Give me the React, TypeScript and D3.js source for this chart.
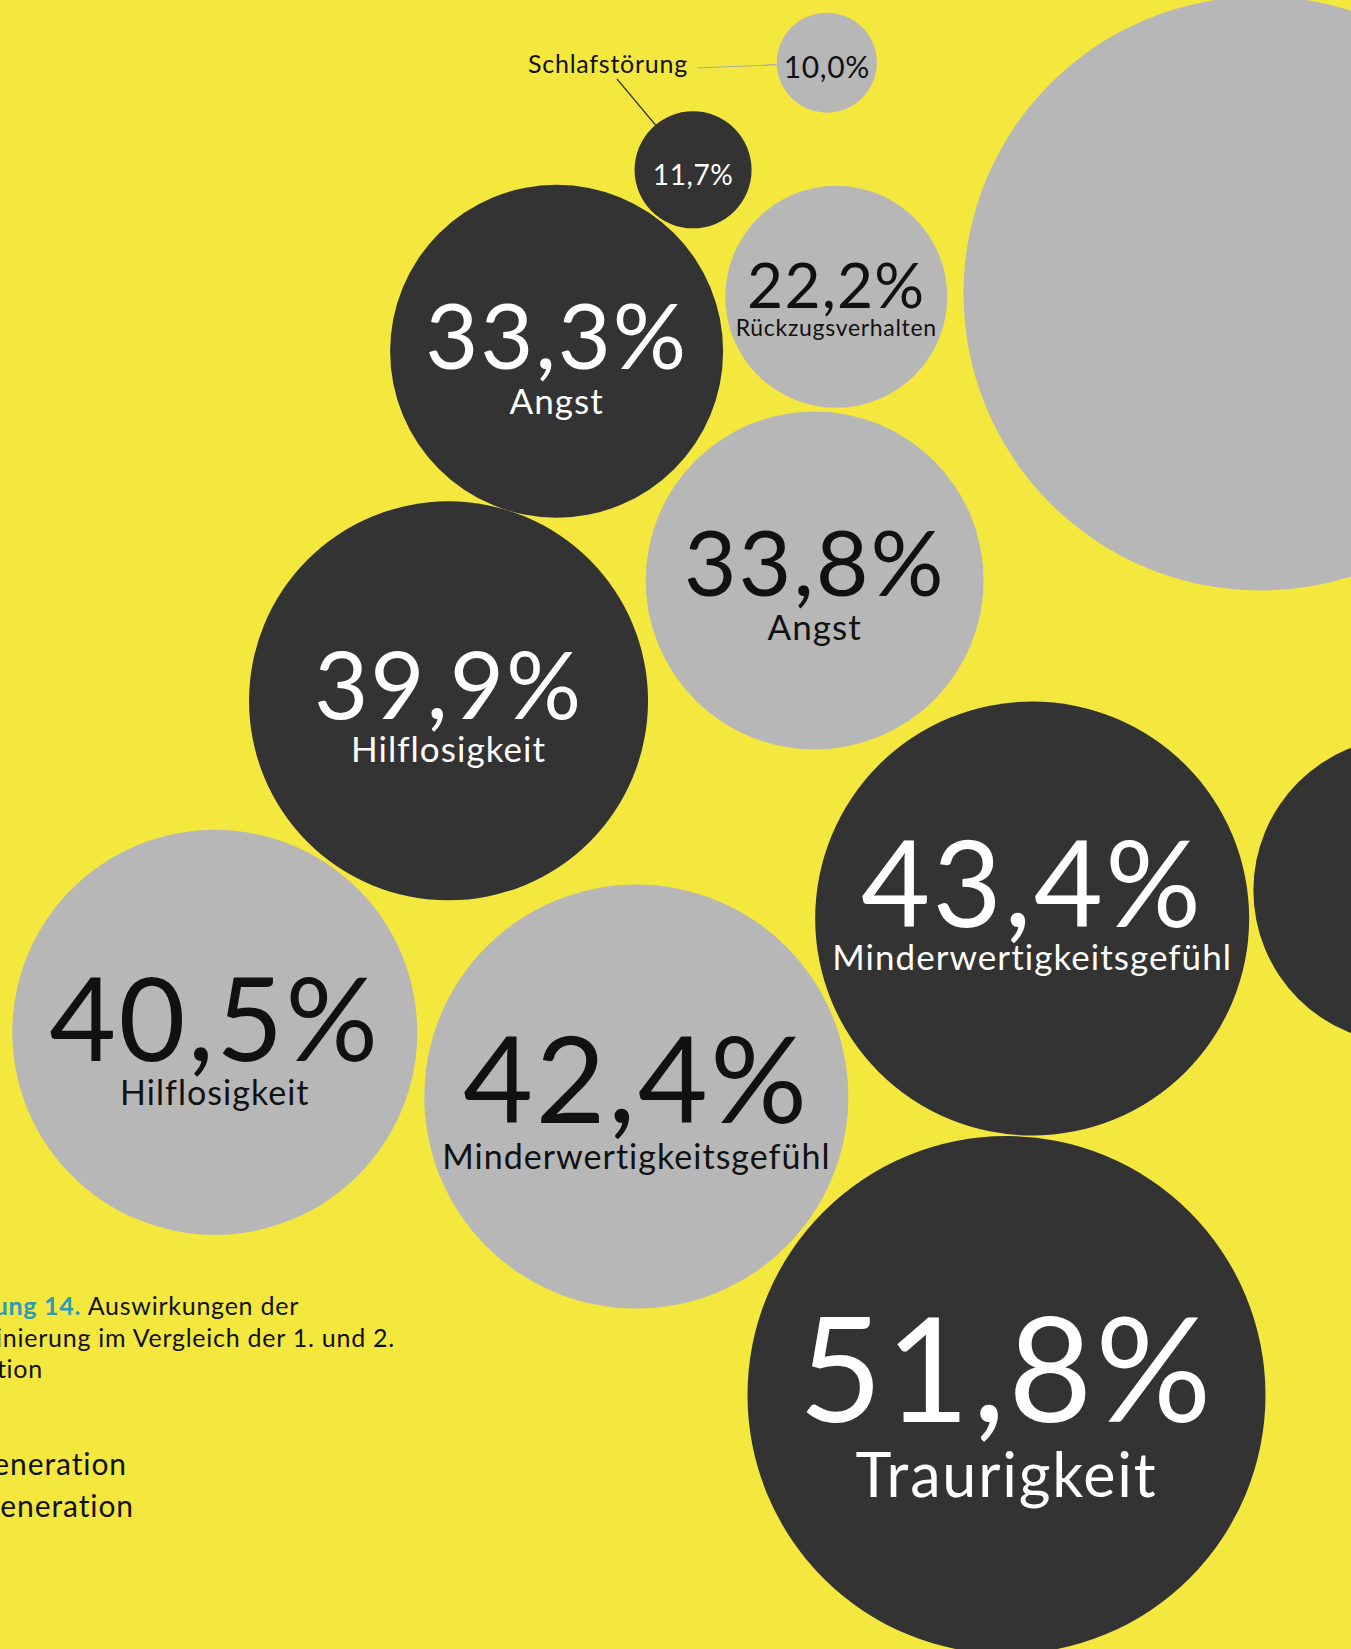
import * as d3 from 'd3';
import React from 'react';

// Auswirkungen der Diskriminierung, 1. vs 2. Generation (Werte in %)
const categories = [
  'Schlafstörung',
  'Schlafstörung',
  'Rückzugsverhalten',
  'Angst',
  'Angst',
  'Hilflosigkeit',
  'Hilflosigkeit',
  'Minderwertigkeitsgefühl',
  'Minderwertigkeitsgefühl',
  'Traurigkeit',
  'Traurigkeit',
  'Rückzugsverhalten',
];
const generations = [2, 1, 2, 1, 2, 1, 2, 2, 1, 1, 2, 1];
const values = [10.0, 11.7, 22.2, 33.3, 33.8, 39.9, 40.5, 42.4, 43.4, 51.8, 59.4, 30.6];

// bubble layout, in percent of the page width / height
const layoutX = [61.2, 51.3, 61.9, 41.2, 60.3, 33.2, 15.9, 47.1, 76.4, 74.5, 93.3, 104.1];
const layoutY = [3.8, 10.3, 18.0, 21.3, 35.2, 42.5, 62.6, 66.5, 55.7, 84.6, 17.8, 54.0];

// what is written in each bubble: full = value + label, value = value only, none = cut off
const textMode = ['value', 'value', 'full', 'full', 'full', 'full', 'full', 'full', 'full', 'full', 'none', 'none'];
const valueK = [0.6, 0.48, 0.56, 0.55, 0.54, 0.47, 0.57, 0.57, 0.55, 0.56, 0, 0];
const labelSize = [0, 0, 23, 35, 35, 35, 34, 34, 35, 61, 0, 0];
const valueDy = [15, 15, 11.5, 18, 16, 18, 29, 26, 9, 27, 0, 0];
const labelDy = [0, 0, 39.5, 63, 60, 61, 73, 72, 52, 102, 0, 0];

const legendLabels = ['1. Generation', '2. Generation'];
const captionNumber = 'Abbildung 14.';
const captionLines = ['Auswirkungen der', 'Diskriminierung im Vergleich der 1. und 2.', 'Generation'];

const W = 1351;
const H = 1649;
const BG = '#f4e83f';
const FONT = "Lato, 'Open Sans', sans-serif";

export default function App() {
  const x = d3.scaleLinear().domain([0, 100]).range([0, W]);
  const y = d3.scaleLinear().domain([0, 100]).range([0, H]);
  const r = d3.scaleLinear().domain([0, 100]).range([0, 500]);
  const fill = d3.scaleOrdinal<number, string>().domain([1, 2]).range(['#333333', '#b7b7b7']);
  const ink = d3.scaleOrdinal<number, string>().domain([1, 2]).range(['#ffffff', '#111111']);
  const fmt = (v: number) => d3.format('.1f')(v).replace('.', ',') + '%';

  const bubbles = values.map((v, i) => ({
    i,
    v,
    cx: x(layoutX[i]),
    cy: y(layoutY[i]),
    r: r(v),
    gen: generations[i],
  }));

  // outside label "Schlafstörung" with two leader lines
  const sleepText = { x: 608, y: 73 };
  const leaders = [0, 1].map((i) => {
    const b = bubbles[i];
    const sx = i === 0 ? 697 : 617;
    const sy = i === 0 ? 68 : 79;
    const a = Math.atan2(sy - b.cy, sx - b.cx);
    return {
      i,
      x1: sx,
      y1: sy,
      x2: b.cx + b.r * Math.cos(a),
      y2: b.cy + b.r * Math.sin(a),
      color: i === 0 ? '#a9a9a9' : '#333333',
    };
  });

  const textStyle = { fontVariantLigatures: 'none' as const };

  return (
    <svg
      width={W}
      height={H}
      style={{ position: 'absolute', left: 0, top: 0, display: 'block' }}
      fontFamily={FONT}>
      <rect width={W} height={H} fill={BG} />

      <g>
        {bubbles.map((b) => (
          <circle key={b.i} cx={b.cx} cy={b.cy} r={b.r} fill={fill(b.gen)} />
        ))}
      </g>

      <g textAnchor='middle' style={textStyle}>
        {bubbles
          .filter((b) => textMode[b.i] !== 'none')
          .map((b) => (
            <g key={b.i} fill={ink(b.gen)}>
              <text x={b.cx} y={b.cy + valueDy[b.i]} fontSize={b.r * valueK[b.i]} letterSpacing='0.02em'>
                {fmt(b.v)}
              </text>
              {textMode[b.i] === 'full' && (
                <text x={b.cx} y={b.cy + labelDy[b.i]} fontSize={labelSize[b.i]} letterSpacing='0.03em'>
                  {categories[b.i]}
                </text>
              )}
            </g>
          ))}
      </g>

      <g style={textStyle}>
        {leaders.map((l) => (
          <line key={l.i} x1={l.x1} y1={l.y1} x2={l.x2} y2={l.y2} stroke={l.color} strokeWidth={1.2} />
        ))}
        <text x={sleepText.x} y={sleepText.y} textAnchor='middle' fontSize={25} letterSpacing='0.03em' fill='#111'>
          {categories[0]}
        </text>
      </g>

      <g fontSize={25} fill='#111' textAnchor='end' letterSpacing='0.03em' style={textStyle}>
        <text x={299} y={1315}>
          <tspan fill='#2e9bb5' fontWeight={700}>
            {captionNumber}
          </tspan>
          <tspan> {captionLines[0]}</tspan>
        </text>
        <text x={395} y={1347}>
          {captionLines[1]}
        </text>
        <text x={43} y={1378}>
          {captionLines[2]}
        </text>
      </g>

      <g fontSize={30} fill='#111' textAnchor='end' letterSpacing='0.03em' style={textStyle}>
        {legendLabels.map((t, i) => (
          <text key={t} x={i === 0 ? 127 : 134} y={1475 + i * 42}>
            {t}
          </text>
        ))}
      </g>
    </svg>
  );
}
